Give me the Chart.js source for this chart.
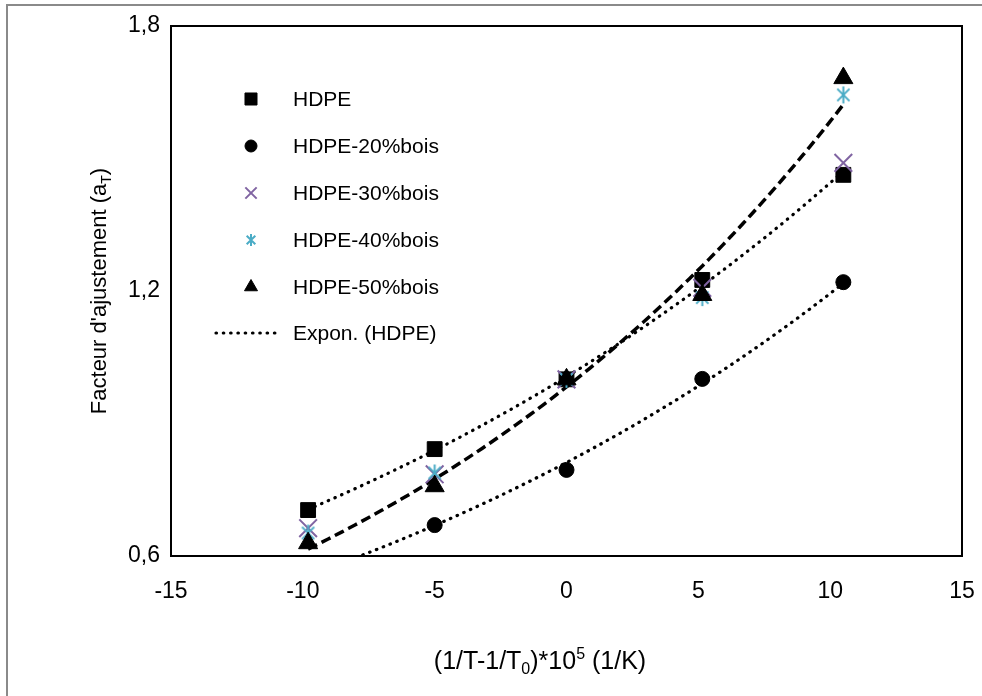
<!DOCTYPE html>
<html>
<head>
<meta charset="utf-8">
<script src="https://cdn.jsdelivr.net/npm/chart.js@4"></script>
<style>
  html, body { margin: 0; padding: 0; background: #fff; }
  canvas { display: block; }
</style>
</head>
<body>
<canvas id="chart" width="982" height="696"></canvas>
<script>
// values
const xVals = [-9.8, -5.0, 0, 5.15, 10.5];
const hdpe = [0.704, 0.842, 1.0, 1.225, 1.463];
const hdpe20 = [0.56, 0.670, 0.795, 1.001, 1.220];
const hdpe30 = [0.663, 0.785, 1.0, 1.207, 1.490];
const hdpe40 = [0.652, 0.788, 1.0, 1.185, 1.644];
const hdpe50 = [0.629, 0.758, 1.0, 1.191, 1.682];
const seriesNames = ['HDPE', 'HDPE-20%bois', 'HDPE-30%bois', 'HDPE-40%bois', 'HDPE-50%bois'];
const trendName = 'Expon. (HDPE)';
const xTicks = [-15, -10, -5, 0, 5, 10, 15];
const yTicks = [0.6, 1.2, 1.8];

const FONT = '"Liberation Sans", Arial, sans-serif';
const PURPLE = '#8064A2';
const CYAN = '#4BACC6';

// asterisk marker (vertical bar + X), like the Excel "*" marker
function asterisk(size, color, lw) {
    const c = document.createElement('canvas');
    c.width = c.height = size;
    const g = c.getContext('2d');
    const m = size / 2, r = size / 2 - 1, d = r * 0.72;
    g.strokeStyle = color;
    g.lineWidth = lw;
    g.beginPath();
    g.moveTo(m, m - r); g.lineTo(m, m + r);
    g.moveTo(m - d, m - d); g.lineTo(m + d, m + d);
    g.moveTo(m + d, m - d); g.lineTo(m - d, m + d);
    g.stroke();
    return c;
}

const pts = ys => xVals.map((x, i) => ({ x, y: ys[i] }));

// Excel style exponential trendline: least squares on ln(y)
function expTrend(ys) {
    const n = xVals.length;
    let sx = 0, sl = 0, sxx = 0, sxl = 0;
    xVals.forEach((x, i) => {
        const l = Math.log(ys[i]);
        sx += x; sl += l; sxx += x * x; sxl += x * l;
    });
    const b = (n * sxl - sx * sl) / (n * sxx - sx * sx);
    const a = Math.exp((sl - b * sx) / n);
    const x0 = xVals[0], x1 = xVals[n - 1];
    const out = [];
    for (let i = 0; i <= 80; i++) {
        const x = x0 + (x1 - x0) * i / 80;
        out.push({ x, y: a * Math.exp(b * x) });
    }
    return out;
}

const markers = [
    { style: 'rect', r: 10.5, color: '#000', legendR: 8.5 },
    { style: 'circle', r: 7.5, color: '#000', legendR: 6 },
    { style: 'crossRot', r: 12.5, color: PURPLE, legendR: 8, lw: 2 },
    { style: asterisk(19, CYAN, 2), r: 9, color: CYAN, legendStyle: asterisk(14, CYAN, 2) },
    { style: 'triangle', r: 11, color: '#000', legendR: 7.5 }
];

const seriesData = [hdpe, hdpe20, hdpe30, hdpe40, hdpe50];

const datasets = seriesData.map((ys, i) => ({
    label: seriesNames[i],
    data: pts(ys),
    showLine: false,
    pointStyle: markers[i].style,
    pointRadius: markers[i].r,
    pointBackgroundColor: markers[i].color,
    pointBorderColor: markers[i].color,
    pointBorderWidth: markers[i].lw || 1,
    order: 5 - i,
    clip: 0
}));

const dotted = { borderWidth: 3.2, borderDash: [0.5, 6.8], borderCapStyle: 'round' };
const dashed = { borderWidth: 3.5, borderDash: [10, 5], borderCapStyle: 'butt' };

[[hdpe, dotted], [hdpe20, dotted], [hdpe50, dashed]].forEach(([ys, st], k) => {
    datasets.push(Object.assign({
        label: k === 0 ? trendName : '',
        data: expTrend(ys),
        showLine: true,
        borderColor: '#000',
        pointRadius: 0,
        tension: 0,
        fill: false,
        order: 10,
        clip: 0
    }, st));
});

// text with sub/superscript pieces, centred on (cx, cy)
function drawRich(ctx, parts, cx, cy, size) {
    const small = Math.round(size * 0.65);
    const fontOf = p => (p.k === 'n' ? size : small) + 'px ' + FONT;
    let total = 0;
    parts.forEach(p => { ctx.font = fontOf(p); p.w = ctx.measureText(p.t).width; total += p.w; });
    let x = cx - total / 2;
    ctx.textBaseline = 'alphabetic';
    ctx.textAlign = 'left';
    const base = cy + size * 0.35;
    parts.forEach(p => {
        ctx.font = fontOf(p);
        let y = base;
        if (p.k === 'sub') y += size * 0.22;
        if (p.k === 'sup') y -= size * 0.38;
        ctx.fillText(p.t, x, y);
        x += p.w;
    });
}

const decor = {
    id: 'decor',
    beforeDraw(chart) {
        const ctx = chart.ctx;
        ctx.save();
        ctx.fillStyle = '#fff';
        ctx.fillRect(0, 0, chart.width, chart.height);
        // outer chart frame (only left and top are inside the picture)
        ctx.strokeStyle = '#8a8a8a';
        ctx.lineWidth = 2;
        ctx.beginPath();
        ctx.moveTo(7, chart.height);
        ctx.lineTo(7, 5);
        ctx.lineTo(chart.width, 5);
        ctx.stroke();
        ctx.restore();
    },
    beforeDatasetsDraw(chart) {
        const { ctx, chartArea: a } = chart;
        ctx.save();
        ctx.strokeStyle = '#000';
        ctx.lineWidth = 2;
        ctx.strokeRect(a.left, a.top, a.right - a.left, a.bottom - a.top);
        ctx.restore();
    },
    afterDraw(chart) {
        const ctx = chart.ctx;
        ctx.save();

        // legend, inside the plot area
        const mx = 251, tx = 293;
        const rows = [99, 146, 193, 240, 287, 333];
        ctx.font = '21px ' + FONT;
        ctx.textBaseline = 'middle';
        seriesNames.forEach((name, i) => {
            const m = markers[i];
            ctx.fillStyle = m.color;
            ctx.strokeStyle = m.color;
            ctx.lineWidth = m.lw || 1;
            Chart.helpers.drawPoint(ctx, {
                pointStyle: m.legendStyle || m.style,
                radius: m.legendR || 6,
                rotation: 0,
                borderWidth: m.lw || 1
            }, mx, rows[i]);
            ctx.fillStyle = '#000';
            ctx.textAlign = 'left';
            ctx.fillText(name, tx, rows[i] + 1);
        });
        ctx.strokeStyle = '#000';
        ctx.lineWidth = dotted.borderWidth;
        ctx.lineCap = 'round';
        ctx.setLineDash(dotted.borderDash);
        ctx.beginPath();
        ctx.moveTo(216, rows[5]);
        ctx.lineTo(280, rows[5]);
        ctx.stroke();
        ctx.setLineDash([]);
        ctx.fillText(trendName, tx, rows[5] + 1);

        // axis titles
        drawRich(ctx, [
            { t: '(1/T-1/T', k: 'n' }, { t: '0', k: 'sub' }, { t: ')*10', k: 'n' },
            { t: '5', k: 'sup' }, { t: ' (1/K)', k: 'n' }
        ], 540, 660, 25);

        ctx.translate(98, 291);
        ctx.rotate(-Math.PI / 2);
        drawRich(ctx, [
            { t: "Facteur d'ajustement (a", k: 'n' }, { t: 'T', k: 'sub' }, { t: ')', k: 'n' }
        ], 0, 0, 22);
        ctx.restore();
    }
};

new Chart(document.getElementById('chart'), {
    type: 'scatter',
    data: { datasets },
    options: {
        responsive: false,
        animation: false,
        layout: { padding: { top: 26, right: 20, left: 0, bottom: 0 } },
        plugins: {
            legend: { display: false },
            tooltip: { enabled: false }
        },
        scales: {
            x: {
                type: 'linear',
                min: -15,
                max: 15,
                afterFit: s => { s.height = 140; s.paddingLeft = 0; s.paddingRight = 0; },
                afterBuildTicks: s => { s.ticks = xTicks.map(v => ({ value: v })); },
                grid: { display: false, drawTicks: false },
                border: { display: false },
                ticks: {
                    padding: 22,
                    color: '#000',
                    autoSkip: false,
                    maxRotation: 0,
                    font: { family: FONT, size: 23 },
                    callback: v => String(v)
                }
            },
            y: {
                type: 'linear',
                min: 0.6,
                max: 1.8,
                afterFit: s => { s.width = 171; s.paddingTop = 0; s.paddingBottom = 0; },
                afterBuildTicks: s => { s.ticks = yTicks.map(v => ({ value: v })); },
                grid: { display: false, drawTicks: false },
                border: { display: false },
                ticks: {
                    padding: 11,
                    color: '#000',
                    font: { family: FONT, size: 23 },
                    callback: v => v.toFixed(1).replace('.', ',')
                }
            }
        }
    },
    plugins: [decor]
});
</script>
</body>
</html>
